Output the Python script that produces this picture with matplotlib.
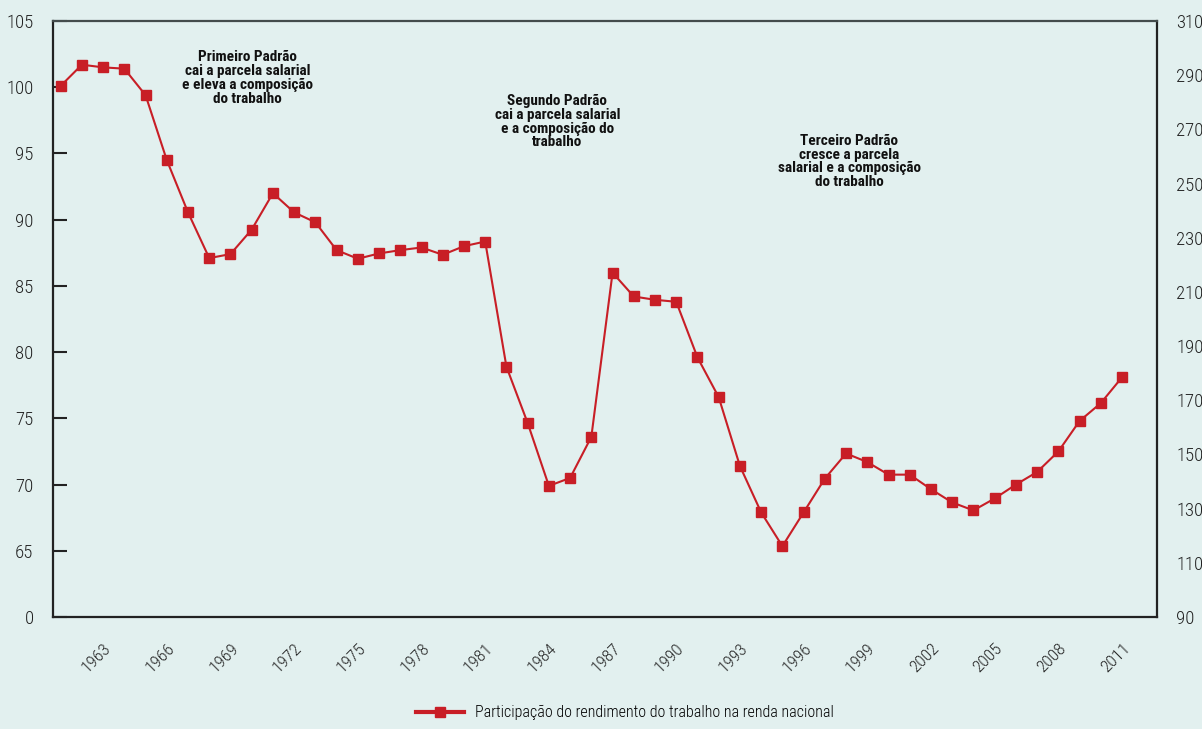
import matplotlib
matplotlib.use("Agg")
from matplotlib import pyplot as plt
import numpy as np

years = np.arange(1961, 2012)
share = [
    100.1, 101.7, 101.5, 101.4, 99.4, 94.5, 90.55, 87.1, 87.4, 89.25,
    92.0, 90.55, 89.8, 87.7, 87.05, 87.45, 87.7, 87.9, 87.35, 88.0,
    88.35, 78.9, 74.65, 69.9, 70.5, 73.6, 86.0, 84.2, 83.95, 83.8,
    79.6, 76.6, 71.4, 67.9, 65.35, 67.9, 70.45, 72.35, 71.7, 70.75,
    70.75, 69.65, 68.65, 68.05, 68.95, 70.0, 70.95, 72.5, 74.8, 76.15,
    78.1,
]
label_years = np.arange(1963, 2012, 3)
left_ticks = [60, 65, 70, 75, 80, 85, 90, 95, 100, 105]
left_labels = ["0", "65", "70", "75", "80", "85", "90", "95", "100", "105"]
right_ticks = np.arange(90, 311, 20)

notes = [
    (1969.8, 100.7, "Primeiro Padrão\ncai a parcela salarial\ne eleva a composição\ndo trabalho"),
    (1984.4, 97.4, "Segundo Padrão\ncai a parcela salarial\ne a composição do\ntrabalho"),
    (1998.15, 94.4, "Terceiro Padrão\ncresce a parcela\nsalarial e a composição\ndo trabalho"),
]

bg = "#e2f0ef"
red = "#c81e26"
plt.rcParams["font.family"] = ["Roboto Condensed", "DejaVu Sans"]
plt.rcParams["font.weight"] = 300

fig = plt.figure(figsize=(12.02, 7.29), dpi=100, facecolor=bg)
ax = fig.add_axes([0.0441, 0.1536, 0.9185, 0.8176])
ax.set_facecolor(bg)

ax.plot(years, share, color=red, lw=1.5, marker="s", ms=7.5,
        mfc=red, mec=red, label="Participação do rendimento do trabalho na renda nacional")

ax.set_xlim(1960.64, 2012.65)
ax.set_ylim(60, 105)
ax.set_yticks(left_ticks)
ax.set_yticklabels(left_labels)
ax.set_xticks(label_years)
ax.set_xticklabels([str(y) for y in label_years], rotation=45, ha="right",
                   rotation_mode="anchor")
ax.tick_params(axis="y", direction="in", length=10, width=1.5, pad=14,
               labelsize=13.5, colors="#222", right=True)
ax.tick_params(axis="x", length=0, pad=17, labelsize=12.5, colors="#222")

for side in ["top", "left", "bottom", "right"]:
    ax.spines[side].set_linewidth(1.6)
    ax.spines[side].set_color("#222")
ax.spines["top"].set_color("#444c4c")

# secondary scale on the right
ax2 = ax.twinx()
ax2.set_ylim(90, 310)
ax2.set_yticks(right_ticks)
ax2.tick_params(axis="y", length=0, pad=14, labelsize=13.5, colors="#222")
for side in ["top", "left", "bottom", "right"]:
    ax2.spines[side].set_visible(False)

for x, y, txt in notes:
    ax.text(x, y, txt, ha="center", va="center", fontsize=11,
            fontweight="bold", color="#111", linespacing=0.98)

leg = fig.legend(loc="lower center", bbox_to_anchor=(0.52, -0.008), frameon=False,
                 prop={"size": 11.5, "weight": 300}, handlelength=3.0,
                 handletextpad=0.7)
for h in leg.legend_handles:
    h.set_linewidth(3)

fig.savefig("out.png", dpi=100, facecolor=bg)
